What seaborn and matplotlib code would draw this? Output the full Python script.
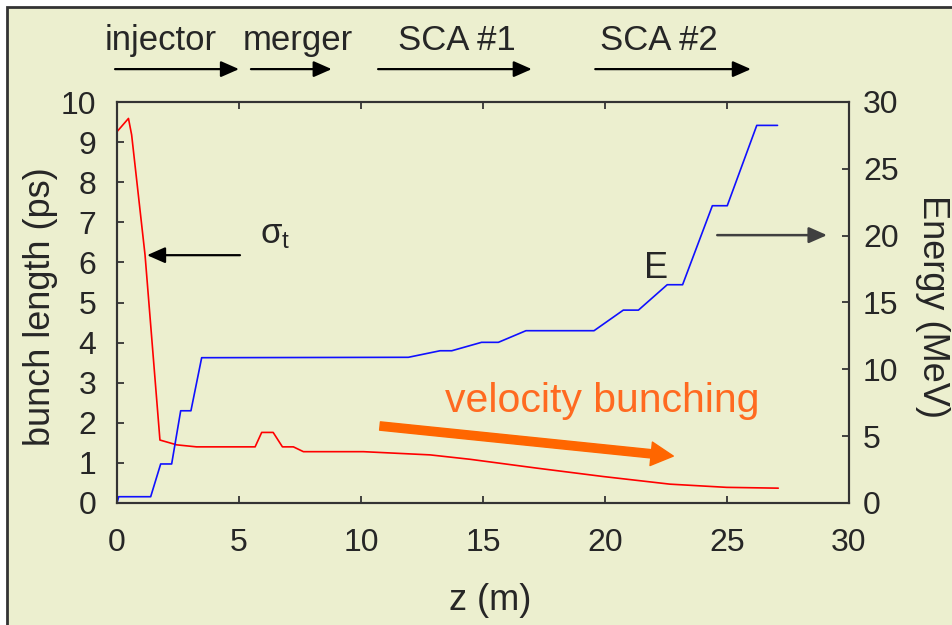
import numpy as np
import pandas as pd
import seaborn as sns
import matplotlib.pyplot as plt
from matplotlib.patches import Rectangle

# bunch length sigma_t (ps) along the beamline
z_sigma = [0, 0.47, 0.6, 1.15, 1.76, 2.45, 3.26, 4.63, 5.66, 5.93, 6.4, 6.78, 7.23, 7.64,
           10.1, 12.83, 14.47, 17.2, 19.93, 22.66, 24.99, 27.1]
sigma_t = [9.26, 9.59, 9.18, 6.18, 1.57, 1.45, 1.40, 1.40, 1.40, 1.76, 1.76, 1.40, 1.40, 1.28,
           1.28, 1.20, 1.09, 0.87, 0.66, 0.47, 0.39, 0.37]

# beam energy (MeV)
z_energy = [0, 0.07, 1.38, 1.79, 2.24, 2.61, 3.03, 3.47, 11.94, 13.24, 13.72, 14.94, 15.63,
            16.76, 19.55, 20.75, 21.37, 22.55, 23.18, 24.4, 25.01, 26.22, 27.07]
energy = [0, 0.47, 0.47, 2.92, 2.92, 6.9, 6.9, 10.87, 10.9, 11.39, 11.39, 12.02, 12.02,
          12.89, 12.89, 14.43, 14.43, 16.33, 16.33, 22.24, 22.24, 28.25, 28.25]

sections = ['injector', 'merger', 'SCA #1', 'SCA #2']
section_text_z = [-0.49, 5.16, 11.52, 19.8]
section_arrow_z = [(-0.08, 5.0), (5.49, 8.8), (10.7, 17.0), (19.6, 25.98)]

df_s = pd.DataFrame({'z': z_sigma, 'sigma': sigma_t})
df_e = pd.DataFrame({'z': z_energy, 'E': energy})

sns.set_style('ticks')
plt.rcParams['font.family'] = ['Liberation Sans', 'DejaVu Sans']
plt.rcParams['mathtext.fontset'] = 'custom'
plt.rcParams['mathtext.rm'] = 'Liberation Sans'
plt.rcParams['mathtext.it'] = 'Liberation Sans'

bg = '#ECEFCF'
fig = plt.figure(figsize=(9.53, 6.25), dpi=100, facecolor='white')
# yellowish panel with a frame on the left and top (drawn below the axes)
fig.patches.append(Rectangle((7.5 / 953, -0.1), 1.2, 1.1 - 7 / 625,
                             transform=fig.transFigure, facecolor=bg,
                             edgecolor='#333333', lw=2.0, zorder=-5))

ax = fig.add_axes([117 / 953, 1 - 503 / 625, 732 / 953, 401 / 625])
ax.set_facecolor('none')
ax2 = ax.twinx()
ax2.set_facecolor('none')

sns.lineplot(data=df_s, x='z', y='sigma', ax=ax, color='#FF0000', lw=1.2, sort=False)
sns.lineplot(data=df_e, x='z', y='E', ax=ax2, color='#1010FF', lw=1.2, sort=False)

ax.set_xlim(0, 30)
ax.set_ylim(0, 10)
ax2.set_ylim(0, 30)
ax.set_xticks(range(0, 31, 5))
ax.set_yticks(range(0, 11))
ax2.set_yticks(range(0, 31, 5))

fs = 23
fs_lab = 26
fs_head = 25
for a in (ax, ax2):
    for sp in a.spines.values():
        sp.set_color('#333333')
        sp.set_linewidth(1.5)
ax.tick_params(axis='x', direction='in', top=True, length=5, width=1.3, color='#333333',
               labelsize=fs, pad=18)
ax.tick_params(axis='y', direction='in', length=5, width=1.3, color='#333333',
               labelsize=fs, pad=15)
ax2.tick_params(axis='y', direction='in', length=5, width=1.3, color='#333333',
                labelsize=fs, pad=10)

ax.set_xlabel('z (m)', fontsize=fs_lab)
ax.xaxis.set_label_coords(0.51, -0.2)
ax.set_ylabel('bunch length (ps)', fontsize=fs_lab)
ax.yaxis.set_label_coords(-0.08, 0.49)
ax2.set_ylabel('Energy (MeV)', fontsize=fs_lab, rotation=-90, va='bottom')
ax2.yaxis.set_label_coords(1.09, 0.49)

arrow_kw = dict(arrowstyle='-|>,head_length=0.5,head_width=0.22', color='black', lw=1.6,
                mutation_scale=22, shrinkA=0, shrinkB=0)

# section labels and arrows above the plot
for name, tz, (a0, a1) in zip(sections, section_text_z, section_arrow_z):
    ax.text(tz, 11.30, name, fontsize=fs_head, ha='left', va='baseline', clip_on=False)
    ax.annotate('', xy=(a1, 10.82), xytext=(a0, 10.82), annotation_clip=False,
                arrowprops=arrow_kw)

# sigma_t label
ax.text(5.86, 6.48, r'$\mathregular{\sigma_t}$', fontsize=fs + 2, ha='left', va='baseline')
ax.annotate('', xy=(1.23, 6.18), xytext=(5.04, 6.18), arrowprops=arrow_kw)

# energy label
ax2.text(22.09, 17.58, 'E', fontsize=26, ha='center', va='center')
ax2.annotate('', xy=(29.1, 20.04), xytext=(24.6, 20.04),
             arrowprops=dict(arrow_kw, color='#404040', lw=1.8))

# velocity bunching
ax.text(13.44, 2.27, 'velocity bunching', fontsize=29.5, color='#FF6A20',
        ha='left', va='baseline')
ax.annotate('', xy=(22.8, 1.17), xytext=(10.78, 1.92),
            arrowprops=dict(width=6, headwidth=17, headlength=16,
                            color='#FF6600', shrink=0))

fig.savefig('out.png', dpi=100, facecolor='white')
